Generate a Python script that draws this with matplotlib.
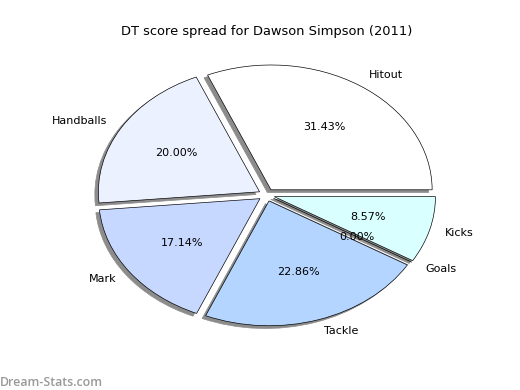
import matplotlib
matplotlib.use("Agg")
import matplotlib.pyplot as plt

labels = ['Hitout', 'Handballs', 'Mark', 'Tackle', 'Goals', 'Kicks']
points = [11, 7, 6, 8, 0, 3]
colors = ['#ffffff', '#ebf1ff', '#c6d8ff', '#b3d5ff', '#d0d0d0', '#d9ffff']
explode = [0.05] * len(points)

fig = plt.figure(figsize=(6.5, 4.875), dpi=80)
ax = fig.add_axes([0.125, 0.1, 0.775, 0.8])

wedges, texts, autotexts = ax.pie(
    points, labels=labels, colors=colors, explode=explode,
    autopct='%.2f%%', startangle=0,
    shadow={'facecolor': '0.55', 'edgecolor': '0.55', 'alpha': 1.0},
    wedgeprops={'edgecolor': 'black', 'linewidth': 0.6},
    textprops={'fontsize': 10},
)
ax.set_aspect('auto')
ax.set_xlim(-1.25, 1.25)
ax.set_ylim(-1.25, 1.25)
ax.set_title('DT score spread for Dawson Simpson (2011)', fontsize=11.7, pad=4)

fig.text(0.0, 0.01, 'Dream-Stats.com', color='#999999', fontsize=11.2,
         family='Open Sans', fontweight='semibold')

fig.savefig('out.png', dpi=80)
